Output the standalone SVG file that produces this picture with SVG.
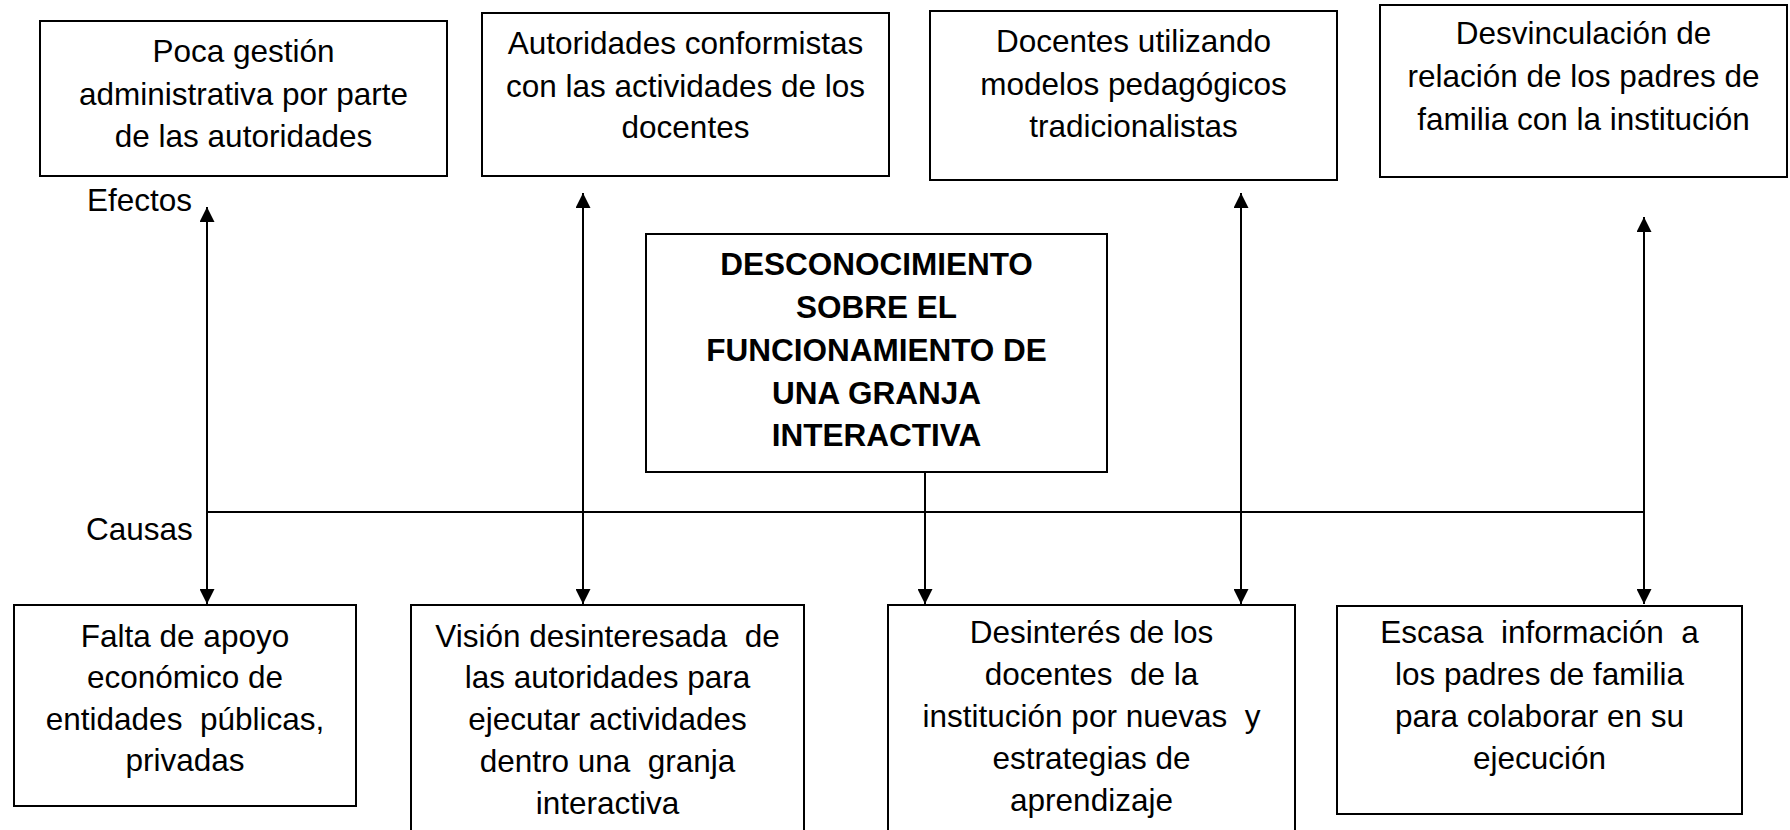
<svg xmlns="http://www.w3.org/2000/svg" width="1790" height="830" viewBox="0 0 1790 830">
<style>
  .box { fill: #fff; stroke: #000; stroke-width: 2; }
  .t { font-family: "Liberation Sans", Arial, sans-serif; font-size: 31.5px; fill: #000; text-anchor: middle; white-space: pre; }
  .b { font-weight: bold; }
  .lbl { text-anchor: start; }
  .conn { stroke: #000; stroke-width: 2; fill: none; }
</style>
<defs>
  <marker id="ah" viewBox="0 0 15 15" refX="15" refY="7.5" markerWidth="15" markerHeight="15" markerUnits="userSpaceOnUse" orient="auto-start-reverse">
    <path d="M0,0 L15,7.5 L0,15 z" fill="#000"/>
  </marker>
</defs>
<rect width="1790" height="830" fill="#fff"/>

<g id="connectors">
  <line class="conn" x1="207" y1="512" x2="1644" y2="512"/>
  <line class="conn" x1="207" y1="207" x2="207" y2="604" marker-start="url(#ah)" marker-end="url(#ah)"/>
  <line class="conn" x1="583" y1="193" x2="583" y2="604" marker-start="url(#ah)" marker-end="url(#ah)"/>
  <line class="conn" x1="925" y1="472" x2="925" y2="604" marker-end="url(#ah)"/>
  <line class="conn" x1="1241" y1="193" x2="1241" y2="604" marker-start="url(#ah)" marker-end="url(#ah)"/>
  <line class="conn" x1="1644" y1="217" x2="1644" y2="604" marker-start="url(#ah)" marker-end="url(#ah)"/>
</g>

<g id="label-efectos"><text class="t lbl" x="87" y="211">Efectos</text></g>
<g id="label-causas"><text class="t lbl" x="86" y="540">Causas</text></g>

<g id="efecto-1">
  <rect class="box" x="40" y="21" width="407" height="155"/>
  <text class="t" x="243.5" y="62">Poca gestión</text>
  <text class="t" x="243.5" y="105">administrativa por parte</text>
  <text class="t" x="243.5" y="147">de las autoridades</text>
</g>
<g id="efecto-2">
  <rect class="box" x="482" y="13" width="407" height="163"/>
  <text class="t" x="685.5" y="54">Autoridades conformistas</text>
  <text class="t" x="685.5" y="97">con las actividades de los</text>
  <text class="t" x="685.5" y="138">docentes</text>
</g>
<g id="efecto-3">
  <rect class="box" x="930" y="11" width="407" height="169"/>
  <text class="t" x="1133.5" y="52">Docentes utilizando</text>
  <text class="t" x="1133.5" y="95">modelos pedagógicos</text>
  <text class="t" x="1133.5" y="137">tradicionalistas</text>
</g>
<g id="efecto-4">
  <rect class="box" x="1380" y="5" width="407" height="172"/>
  <text class="t" x="1583.5" y="44">Desvinculación de</text>
  <text class="t" x="1583.5" y="87">relación de los padres de</text>
  <text class="t" x="1583.5" y="130">familia con la institución</text>
</g>

<g id="problema">
  <rect class="box" x="646" y="234" width="461" height="238"/>
  <text class="t b" x="876.5" y="275">DESCONOCIMIENTO</text>
  <text class="t b" x="876.5" y="318">SOBRE EL</text>
  <text class="t b" x="876.5" y="361">FUNCIONAMIENTO DE</text>
  <text class="t b" x="876.5" y="404">UNA GRANJA</text>
  <text class="t b" x="876.5" y="446">INTERACTIVA</text>
</g>

<g id="causa-1">
  <rect class="box" x="14" y="605" width="342" height="201"/>
  <text class="t" x="185" y="647">Falta de apoyo</text>
  <text class="t" x="185" y="688">económico de</text>
  <text class="t" x="185" y="730">entidades  públicas,</text>
  <text class="t" x="185" y="771">privadas</text>
</g>
<g id="causa-2">
  <rect class="box" x="411" y="605" width="393" height="240"/>
  <text class="t" x="607.5" y="647">Visión desinteresada  de</text>
  <text class="t" x="607.5" y="688">las autoridades para</text>
  <text class="t" x="607.5" y="730">ejecutar actividades</text>
  <text class="t" x="607.5" y="772">dentro una  granja</text>
  <text class="t" x="607.5" y="814">interactiva</text>
</g>
<g id="causa-3">
  <rect class="box" x="888" y="605" width="407" height="240"/>
  <text class="t" x="1091.5" y="643">Desinterés de los</text>
  <text class="t" x="1091.5" y="685">docentes  de la</text>
  <text class="t" x="1091.5" y="727">institución por nuevas  y</text>
  <text class="t" x="1091.5" y="769">estrategias de</text>
  <text class="t" x="1091.5" y="811">aprendizaje</text>
</g>
<g id="causa-4">
  <rect class="box" x="1337" y="606" width="405" height="208"/>
  <text class="t" x="1539.5" y="643">Escasa  información  a</text>
  <text class="t" x="1539.5" y="685">los padres de familia</text>
  <text class="t" x="1539.5" y="727">para colaborar en su</text>
  <text class="t" x="1539.5" y="769">ejecución</text>
</g>
</svg>
